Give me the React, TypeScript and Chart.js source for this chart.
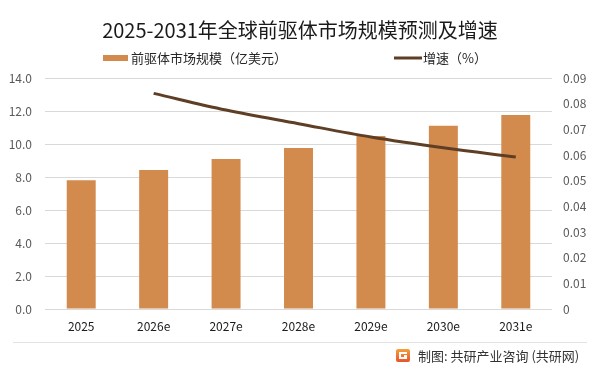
import React, { useEffect, useRef } from "react";
import { Chart, registerables } from "chart.js";

Chart.register(...registerables);

const categories = ["2025", "2026e", "2027e", "2028e", "2029e", "2030e", "2031e"];
const marketSize = [7.8, 8.42, 9.09, 9.76, 10.48, 11.1, 11.76];
const growthRate = [null, 0.084, 0.0775, 0.0722, 0.067, 0.0628, 0.0592];
const leftTicks = [0, 2, 4, 6, 8, 10, 12, 14];
const rightTicks = [0, 0.01, 0.02, 0.03, 0.04, 0.05, 0.06, 0.07, 0.08, 0.09];

const titleText = "2025-2031年全球前驱体市场规模预测及增速";
const barLabel = "前驱体市场规模（亿美元）";
const lineLabel = "增速（%）";
const footerText = "制图: 共研产业咨询 (共研网)";

const BAR_COLOR = "#D38B4D";
const LINE_COLOR = "#5E3F25";
const FONT = "'Noto Sans CJK SC', 'Noto Sans', sans-serif";

const decorPlugin = {
  id: "decor",
  afterDraw(chart: any) {
    const ctx = chart.ctx as CanvasRenderingContext2D;
    ctx.save();
    // title
    ctx.fillStyle = "#1a1a1a";
    ctx.font = `20px ${FONT}`;
    ctx.textAlign = "center";
    ctx.textBaseline = "middle";
    ctx.fillText(titleText, 300, 30);

    // legend
    ctx.font = `13px ${FONT}`;
    ctx.textAlign = "left";
    ctx.fillStyle = BAR_COLOR;
    ctx.fillRect(103, 55, 25, 6);
    ctx.fillStyle = "#262626";
    ctx.fillText(barLabel, 131, 58);
    ctx.strokeStyle = LINE_COLOR;
    ctx.lineWidth = 3;
    ctx.beginPath();
    ctx.moveTo(394, 58);
    ctx.lineTo(422, 58);
    ctx.stroke();
    ctx.fillStyle = "#262626";
    ctx.fillText(lineLabel, 423, 58);

    // separator
    ctx.strokeStyle = "#e3e3e3";
    ctx.lineWidth = 1;
    ctx.beginPath();
    ctx.moveTo(13, 342.5);
    ctx.lineTo(587, 342.5);
    ctx.stroke();

    // logo
    const g = ctx.createLinearGradient(396, 349, 396, 362);
    g.addColorStop(0, "#F4A13A");
    g.addColorStop(1, "#E8522B");
    ctx.fillStyle = g;
    ctx.beginPath();
    (ctx as any).roundRect(396, 349, 14, 13, 2);
    ctx.fill();
    ctx.fillStyle = "#ffffff";
    ctx.fillRect(399, 352, 8, 2);
    ctx.fillRect(399, 352, 2, 7);
    ctx.fillRect(399, 357, 8, 2);
    ctx.fillRect(404, 355, 3, 3);

    // footer
    ctx.fillStyle = "#333333";
    ctx.font = `13px ${FONT}`;
    ctx.textAlign = "left";
    ctx.fillText(footerText, 418, 356);
    ctx.restore();
  },
};

export default function App() {
  const ref = useRef<HTMLCanvasElement | null>(null);
  useEffect(() => {
    if (!ref.current) return;
    const chart = new Chart(ref.current, {
      type: "bar",
      data: {
        labels: categories,
        datasets: [
          {
            type: "line",
            label: lineLabel,
            data: growthRate as any,
            yAxisID: "y1",
            borderColor: LINE_COLOR,
            backgroundColor: LINE_COLOR,
            borderWidth: 3,
            pointRadius: 0,
            tension: 0.35,
            order: 0,
          } as any,
          {
            type: "bar",
            label: barLabel,
            data: marketSize,
            yAxisID: "y",
            backgroundColor: BAR_COLOR,
            categoryPercentage: 1,
            barPercentage: 0.4,
            order: 1,
          },
        ],
      },
      options: {
        responsive: false,
        animation: false,
        layout: { padding: { top: 78, bottom: 35, left: 0, right: 0 } },
        plugins: {
          legend: { display: false },
          title: { display: false },
          tooltip: { enabled: false },
        },
        scales: {
          x: {
            grid: { display: false, drawTicks: false },
            border: { display: false },
            ticks: {
              color: "#1a1a1a",
              font: { family: FONT, size: 12 },
              padding: 10,
              maxRotation: 0,
            },
            afterFit(scale: any) {
              scale.height = 30;
            },
          },
          y: {
            position: "left",
            min: 0,
            max: 14,
            afterBuildTicks(scale: any) {
              scale.ticks = leftTicks.map((v) => ({ value: v }));
            },
            ticks: {
              color: "#595959",
              font: { family: FONT, size: 12 },
              padding: 13,
              callback: (v: any) => Number(v).toFixed(1),
            },
            grid: { color: "#d9d9d9", drawTicks: false, lineWidth: 1 },
            border: { display: false },
            afterFit(scale: any) {
              scale.width = 45;
            },
          },
          y1: {
            position: "right",
            min: 0,
            max: 0.09,
            afterBuildTicks(scale: any) {
              scale.ticks = rightTicks.map((v) => ({ value: v }));
            },
            ticks: {
              color: "#595959",
              font: { family: FONT, size: 12 },
              padding: 11,
              callback: (v: any) => (Number(v) === 0 ? "0" : Number(v).toFixed(2)),
            },
            grid: { display: false, drawTicks: false },
            border: { display: false },
            afterFit(scale: any) {
              scale.width = 48;
            },
          },
        },
      },
      plugins: [decorPlugin],
    });
    return () => chart.destroy();
  }, []);
  return (
    <div style={{ position: "absolute", left: 0, top: 0, width: 600, height: 374, background: "#fff" }}>
      <canvas ref={ref} width={600} height={374} style={{ display: "block" }} />
    </div>
  );
}
